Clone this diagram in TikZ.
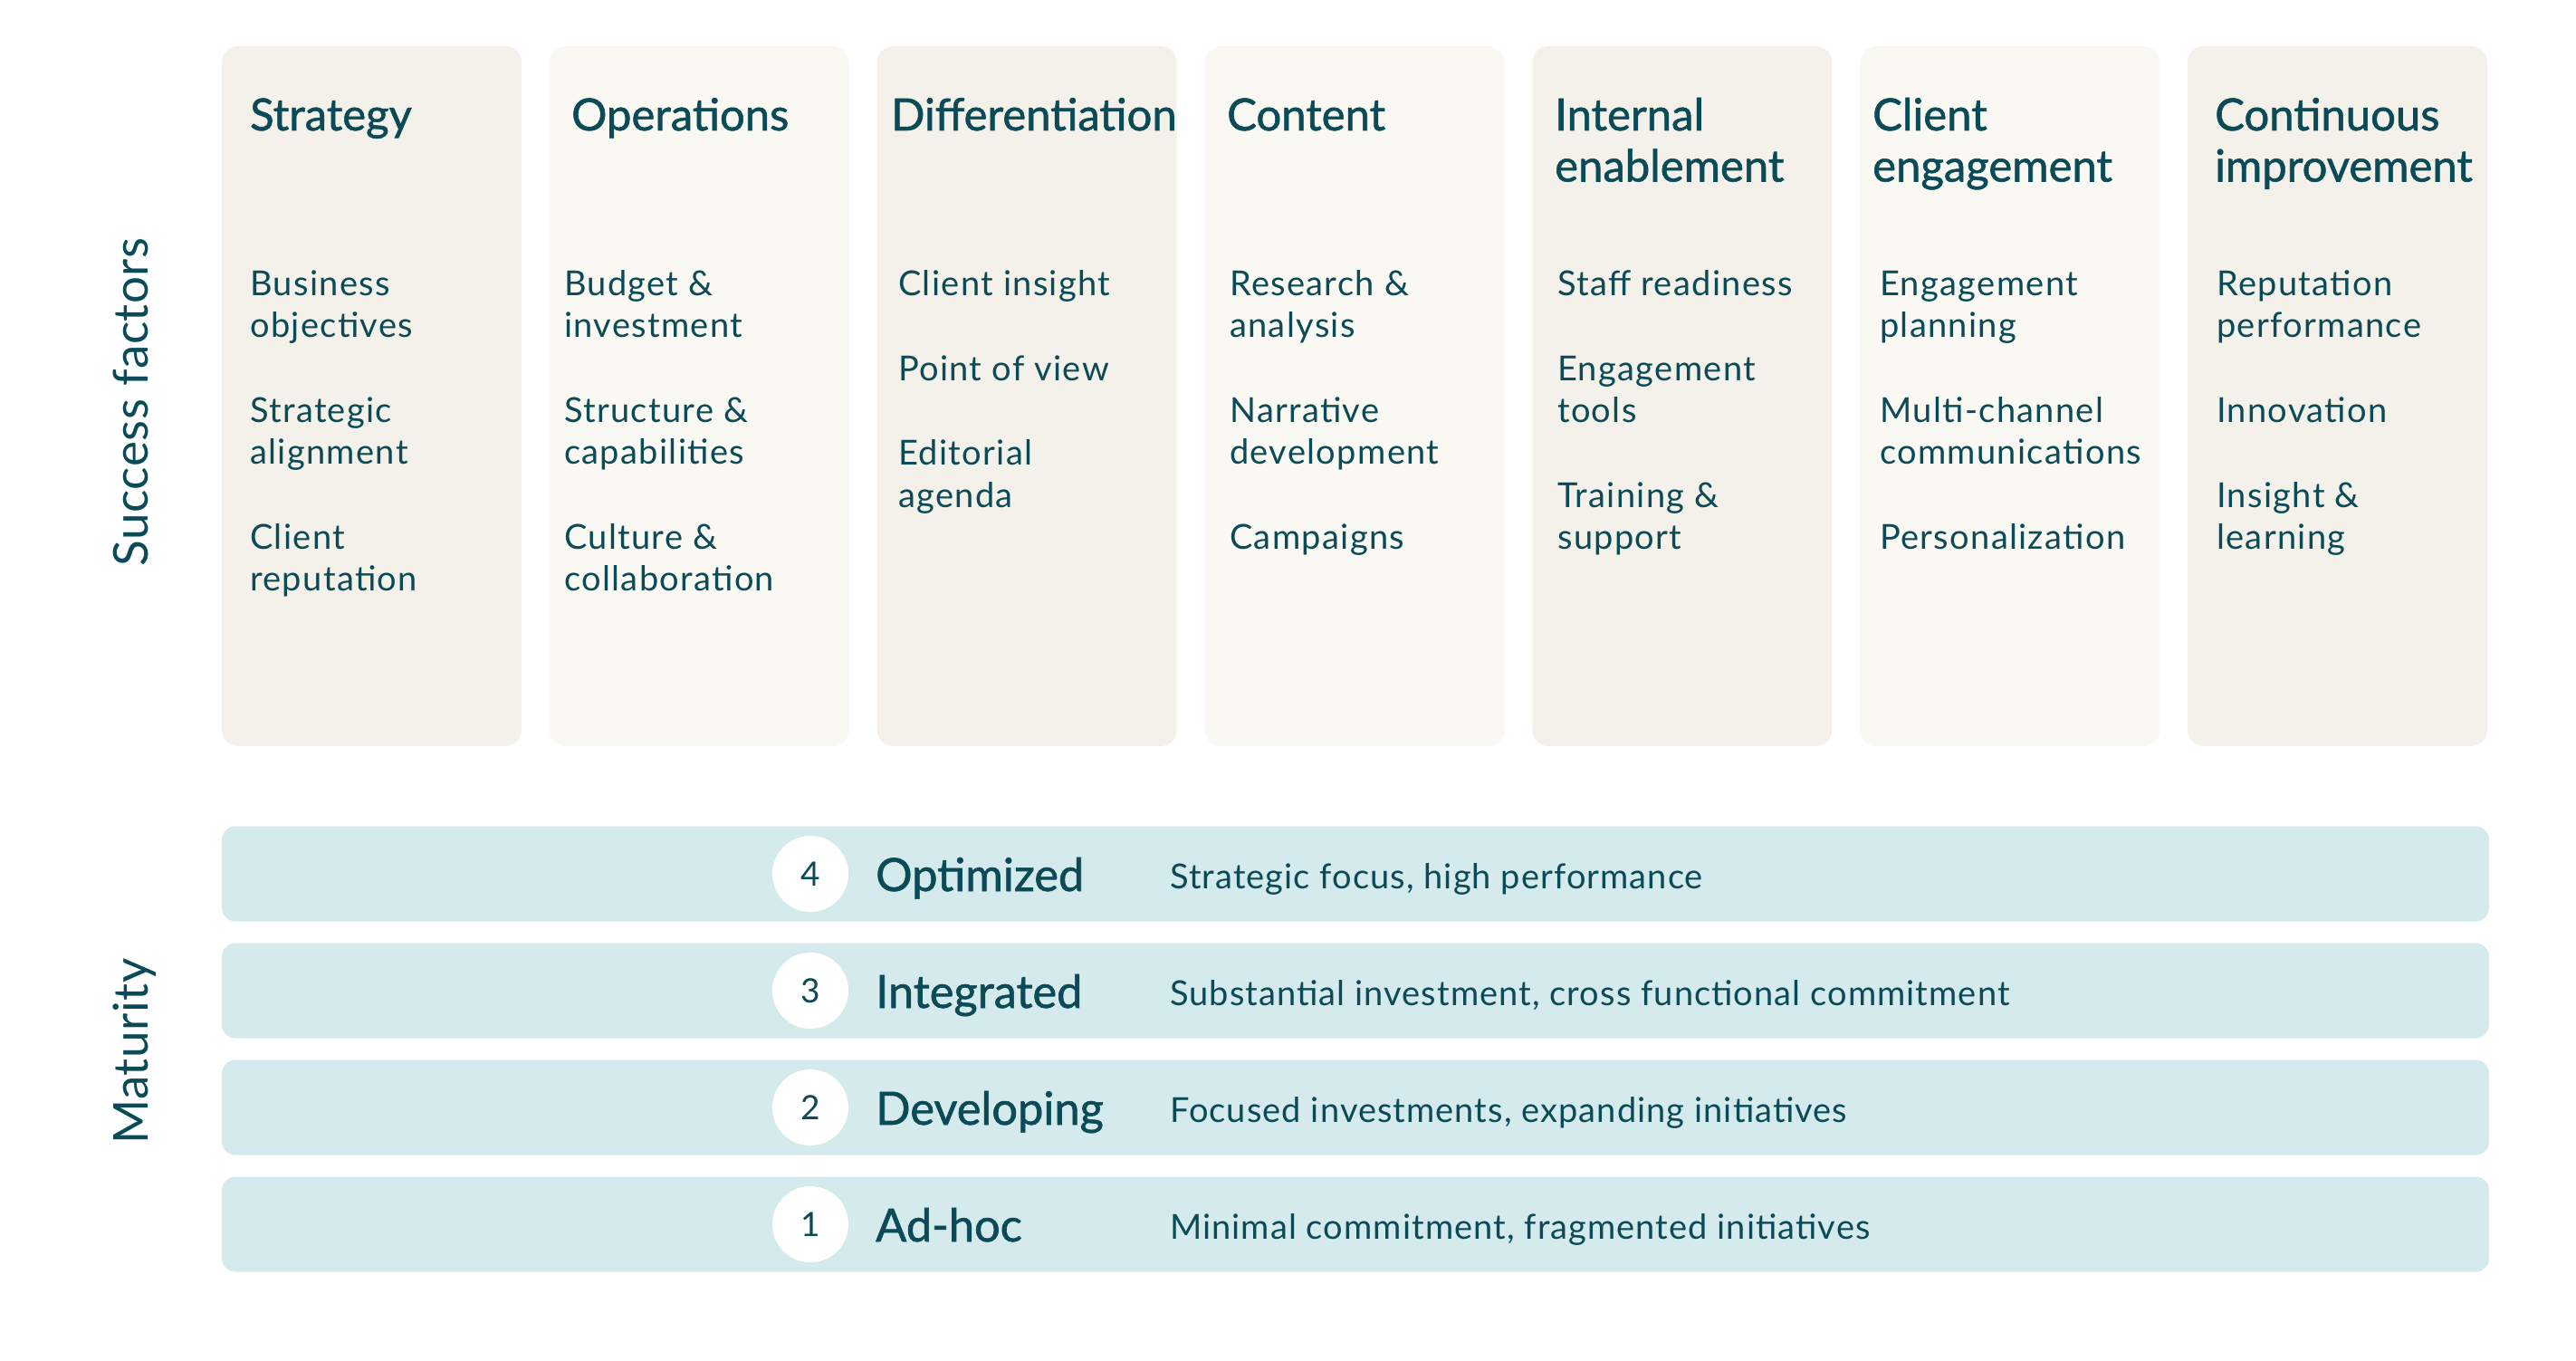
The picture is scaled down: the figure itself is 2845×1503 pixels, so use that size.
\documentclass[tikz,border=0pt]{standalone}
\usepackage{fontspec}
\setmainfont{Lato}
\newfontfamily\titlefont[FakeBold=1.2]{Lato}
\newfontfamily\itemfont[LetterSpace=3.5]{Lato}
\newfontfamily\descfont[LetterSpace=2.8]{Lato}
\newfontfamily\sidefont[LetterSpace=1]{Lato}
\definecolor{ink}{HTML}{0B4A57}
\definecolor{colA}{HTML}{F3F1E9}
\definecolor{colB}{HTML}{F9F8F3}
\definecolor{barc}{HTML}{D5EAEC}
\begin{document}
\begin{tikzpicture}[x=1pt,y=-1pt,
  colbox/.style={draw=none, rounded corners=18pt, minimum width=331pt, minimum height=773pt, inner sep=0pt},
  barbox/.style={draw=none, fill=barc, rounded corners=15pt, minimum width=2504pt, minimum height=105pt, inner sep=0pt},
  ttl/.style={anchor=base west, inner sep=0pt, text=ink, font=\titlefont\fontsize{49}{56.5}\selectfont},
  itm/.style={anchor=base west, inner sep=0pt, text=ink, font=\itemfont\fontsize{38}{46}\selectfont},
  side/.style={anchor=base, inner sep=0pt, rotate=90, text=ink, font=\sidefont\fontsize{53}{60}\selectfont},
  lvl/.style={anchor=base west, inner sep=0pt, text=ink, font=\titlefont\fontsize{50.5}{60}\selectfont},
  dsc/.style={anchor=base west, inner sep=0pt, text=ink, font=\descfont\fontsize{38}{46}\selectfont},
  numc/.style={circle, fill=white, minimum size=84pt, inner sep=0pt, text=ink, font=\fontsize{37}{40}\selectfont}
]
\useasboundingbox[fill=white] (0,0) rectangle (2845,1503);

% columns
\node[colbox, fill=colA] (c1) at (410.5,437.5) {};
\node[colbox, fill=colB] (c2) at (772.3,437.5) {};
\node[colbox, fill=colA] (c3) at (1134.2,437.5) {};
\node[colbox, fill=colB] (c4) at (1496.0,437.5) {};
\node[colbox, fill=colA] (c5) at (1857.8,437.5) {};
\node[colbox, fill=colB] (c6) at (2219.7,437.5) {};
\node[colbox, fill=colA] (c7) at (2581.5,437.5) {};

% titles
\node[ttl] (t1) at (276,144) {Strategy};
\node[ttl] (t2) at (631,144) {Operations};
\node[ttl] (t3) at (984,144) {Differentiation};
\node[ttl] (t4) at (1355,144) {Content};
\node[ttl] (t5) at (1717,144) {\begin{tabular}[t]{@{}l@{}}Internal\\enablement\end{tabular}};
\node[ttl] (t6) at (2068,144) {\begin{tabular}[t]{@{}l@{}}Client\\engagement\end{tabular}};
\node[ttl] (t7) at (2446,144) {\begin{tabular}[t]{@{}l@{}}Continuous\\improvement\end{tabular}};

% items
\node[itm] (i1) at (276,327) {\begin{tabular}[t]{@{}l@{}}Business\\objectives\\[47.5pt]Strategic\\alignment\\[47.5pt]Client\\reputation\end{tabular}};
\node[itm] (i2) at (623,327) {\begin{tabular}[t]{@{}l@{}}Budget \&\\investment\\[47.5pt]Structure \&\\capabilities\\[47.5pt]Culture \&\\collaboration\end{tabular}};
\node[itm] (i3) at (992,327) {\begin{tabular}[t]{@{}l@{}}Client insight\\[47.5pt]Point of view\\[47.5pt]Editorial\\agenda\end{tabular}};
\node[itm] (i4) at (1358,327) {\begin{tabular}[t]{@{}l@{}}Research \&\\analysis\\[47.5pt]Narrative\\development\\[47.5pt]Campaigns\end{tabular}};
\node[itm] (i5) at (1720,327) {\begin{tabular}[t]{@{}l@{}}Staff readiness\\[47.5pt]Engagement\\tools\\[47.5pt]Training \&\\support\end{tabular}};
\node[itm] (i6) at (2076,327) {\begin{tabular}[t]{@{}l@{}}Engagement\\planning\\[47.5pt]Multi-channel\\communications\\[47.5pt]Personalization\end{tabular}};
\node[itm] (i7) at (2448,327) {\begin{tabular}[t]{@{}l@{}}Reputation\\performance\\[47.5pt]Innovation\\[47.5pt]Insight \&\\learning\end{tabular}};

% side labels
\node[side] (s1) at (163,444) {Success factors};
\node[side] (s2) at (163,1161) {Maturity};

% maturity bars
\node[barbox] (b4) at (1497,965) {};
\node[barbox] (b3) at (1497,1094) {};
\node[barbox] (b2) at (1497,1223) {};
\node[barbox] (b1) at (1497,1352) {};

\node[numc] (n4) at (895,965) {4};
\node[numc] (n3) at (895,1094) {3};
\node[numc] (n2) at (895,1223) {2};
\node[numc] (n1) at (895,1352) {1};

\node[lvl] (l4) at (967,984) {Optimized};
\node[lvl] (l3) at (967,1113) {Integrated};
\node[lvl] (l2) at (967,1242) {Developing};
\node[lvl] (l1) at (967,1371) {Ad-hoc};

\node[dsc] (d4) at (1292,981) {Strategic focus, high performance};
\node[dsc] (d3) at (1292,1110) {Substantial investment, cross functional commitment};
\node[dsc] (d2) at (1292,1239) {Focused investments, expanding initiatives};
\node[dsc] (d1) at (1292,1368) {Minimal commitment, fragmented initiatives};
\end{tikzpicture}
\end{document}
